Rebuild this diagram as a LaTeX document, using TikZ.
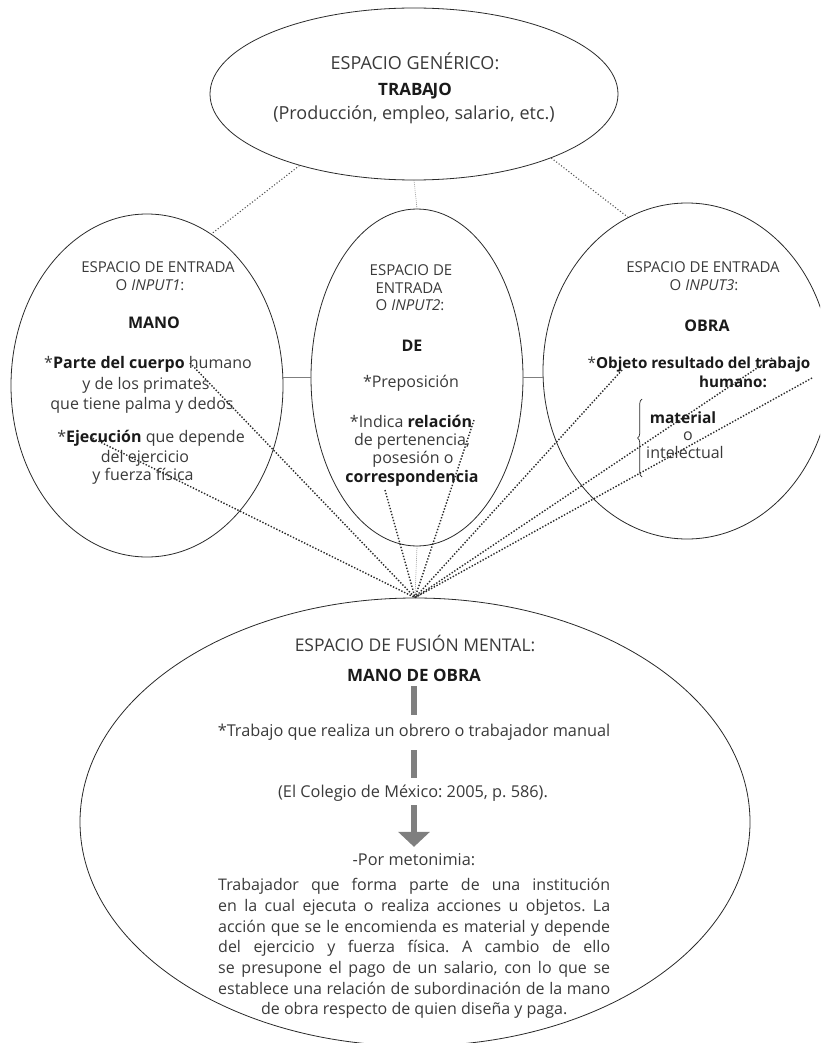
\documentclass[tikz,border=0pt]{standalone}
\usepackage{fontspec}
\setmainfont{Open Sans}
\usetikzlibrary{shapes.geometric,arrows.meta,decorations.pathreplacing}
\definecolor{tg}{HTML}{3A3A3A}
\definecolor{tb}{HTML}{1A1A1A}
\definecolor{edgec}{HTML}{2A2A2A}
\definecolor{dotc}{HTML}{2A2A2A}
\definecolor{dotl}{HTML}{555555}
\definecolor{barc}{HTML}{7F7F7F}
\newcommand{\fsz}[1]{\fontsize{#1}{#1}\selectfont}
\newcommand{\hb}[1]{{\color{tb}\bfseries #1}}
\frenchspacing
\begin{document}
\begin{tikzpicture}[x=1pt,y=-1pt,
  oval/.style={ellipse, draw=edgec, line width=0.8pt, inner sep=0pt},
  ln/.style={anchor=base, inner sep=0pt, text=tg},
  dotline/.style={draw=dotc, line width=1.4pt, dash pattern=on 1.4pt off 1.7pt},
  thindot/.style={draw=dotl, line width=1.1pt, dash pattern=on 1.1pt off 2pt},
  lightdot/.style={draw=gray, line width=0.7pt, dash pattern=on 0.8pt off 1.2pt},
  hline/.style={draw=barc, line width=1.1pt},
  gbar/.style={draw=barc, line width=5.5pt},
  pointer/.style={draw=barc, line width=6.5pt, -{Triangle[width=31pt,length=15pt]}}]
\useasboundingbox (0,0) rectangle (820,1043);
\clip (0,0) rectangle (820,1043);

% ellipses
\node[oval, minimum width=408pt, minimum height=172pt] (gen) at (414,94) {};
\node[oval, minimum width=272pt, minimum height=343pt] (in1) at (147,385.5) {};
\node[oval, minimum width=212pt, minimum height=337pt] (in2) at (417,377.5) {};
\node[oval, minimum width=288pt, minimum height=336pt] (in3) at (687,371) {};
\node[oval, minimum width=670pt, minimum height=448pt] (fus) at (415,822) {};

% connectors between spaces
\draw[thindot] (gen.212.8) -- (in1.67.6);
\draw[thindot] (gen.-25) -- (in3.111.9);
\draw[lightdot] (gen.south) -- (in2.north);
\draw[lightdot] (in2.south) -- (fus.north);
\draw[hline] (in2.west) -- (in1.east |- in2.west);
\draw[hline] (in2.east) -- (in3.west |- in2.east);

% generic space text
\node[ln, font=\fsz{18}] (g1) at (415,70) {ESPACIO GENÉRICO:};
\node[ln, font=\fsz{17}] (g2) at (415,96) {\hb{TRABA\kern-1.2pt JO}};
\node[ln, font=\fsz{18}] (g3) at (414,120) {(Producción, empleo, salario, etc.)};

% input 1
\node[ln, font=\fsz{15}] (a1) at (158,272) {ESPACIO DE ENTRADA};
\node[ln, font=\fsz{15}] (a2) at (150,290) {O \textit{INPUT1}:};
\node[ln, font=\fsz{16}] (a3) at (154,328) {\hb{MANO}};
\node[ln, font=\fsz{16}] (a4) at (148,368) {*\hb{Parte del cuerpo} humano};
\node[ln, font=\fsz{16}] (a5) at (146,389) {y de los primates};
\node[ln, font=\fsz{16}] (a6) at (142,409) {que tiene palma y dedos};
\node[ln, font=\fsz{16}] (a7) at (151,442) {*\hb{Ejecución} que depende};
\node[ln, font=\fsz{16}] (a8) at (145,462) {del ejercicio};
\node[ln, font=\fsz{16}] (a9) at (143,480) {y fuerza física};

% input 2
\node[ln, font=\fsz{15}] (b1) at (411,275) {ESPACIO DE};
\node[ln, font=\fsz{15}] (b2) at (409,293) {ENTRADA};
\node[ln, font=\fsz{15}] (b3) at (410,310) {O \textit{INPUT2}:};
\node[ln, font=\fsz{16}] (b4) at (412,351) {\hb{DE}};
\node[ln, font=\fsz{16}] (b5) at (411,387) {*Preposición};
\node[ln, font=\fsz{16}] (b6) at (411,427) {*Indica \hb{relación}};
\node[ln, font=\fsz{16}] (b7) at (412,445) {de pertenencia,};
\node[ln, font=\fsz{16}] (b8) at (413,463) {posesión o};
\node[ln, font=\fsz{16}] (b9) at (412,482) {\hb{correspondencia}};

% input 3
\node[ln, font=\fsz{15}] (d1) at (703,272) {ESPACIO DE ENTRADA};
\node[ln, font=\fsz{15}] (d2) at (704,290) {O \textit{INPUT3}:};
\node[ln, font=\fsz{16}] (d3) at (707,331) {\hb{OBRA}};
\node[ln, font=\fsz{15.2}] (d4) at (699,368) {*\hb{Objeto resultado del trabajo}};
\node[ln, font=\fsz{15.2}] (d5) at (733,387) {\hb{humano:}};
\node[ln, font=\fsz{15.5}] (d6) at (683,423) {\hb{material}};
\node[ln, font=\fsz{16}] (d7) at (688,440) {o};
\node[ln, font=\fsz{16}] (d8) at (685,458) {intelectual};
\coordinate (br1) at (642,477);
\coordinate (br2) at (642,399);
\draw[decorate, decoration={brace, amplitude=4.5pt}, draw=edgec, line width=0.7pt] (br1) -- (br2);

% fusion space text
\node[ln, font=\fsz{17.5}] (f1) at (415,651) {ESPACIO DE FUSIÓN MENTAL:};
\node[ln, font=\fsz{17}] (f2) at (414,681) {\hb{MANO DE OBRA}};
\node[ln, font=\fsz{16.3}] (f3) at (414,736) {*Trabajo que realiza un obrero o trabajador manual};
\node[ln, font=\fsz{16.3}] (f4) at (413,797) {(El Colegio de México: 2005, p. 586).};
\node[ln, font=\fsz{16.3}] (f5) at (414,865) {-Por metonimia:};
\node[anchor=north west, inner sep=0pt, text width=392pt, align=justify, text=tg,
      font=\fontsize{16}{20.67}\selectfont] (f6) at (218,878.5)
  {\parfillskip=0pt
   Trabajador que forma parte de una institución\linebreak
   en la cual ejecuta o realiza acciones u objetos. La\linebreak
   acción que se le encomienda es material y depende\linebreak
   del ejercicio y fuerza física. A cambio de ello\linebreak
   se presupone el pago de un salario, con lo que se\linebreak
   establece una relación de subordinación de la mano\par
   \centering de obra respecto de quien diseña y paga.\par};

\coordinate (bx) at (414,0);
\draw[gbar] ([yshift=-5pt]f2.south -| bx) -- ([yshift=8pt]f3.north -| bx);
\draw[gbar] ([yshift=-10pt]f3.south -| bx) -- ([yshift=6pt]f4.north -| bx);
\draw[pointer] ([yshift=-4pt]f4.south -| bx) -- ([yshift=6pt]f5.north -| bx);

% dotted links to the blend
\coordinate (c1) at (190,363);
\coordinate (c2) at (90,437);
\coordinate (c3) at (474,420);
\coordinate (c4) at (385,490);
\coordinate (c5) at (622,370);
\coordinate (c6) at (772,358);
\coordinate (c7) at (812,378);
\foreach \c in {c1,c2,c3,c4,c5,c6,c7}
  \draw[dotline] (\c) -- (fus.north);
\end{tikzpicture}
\end{document}
